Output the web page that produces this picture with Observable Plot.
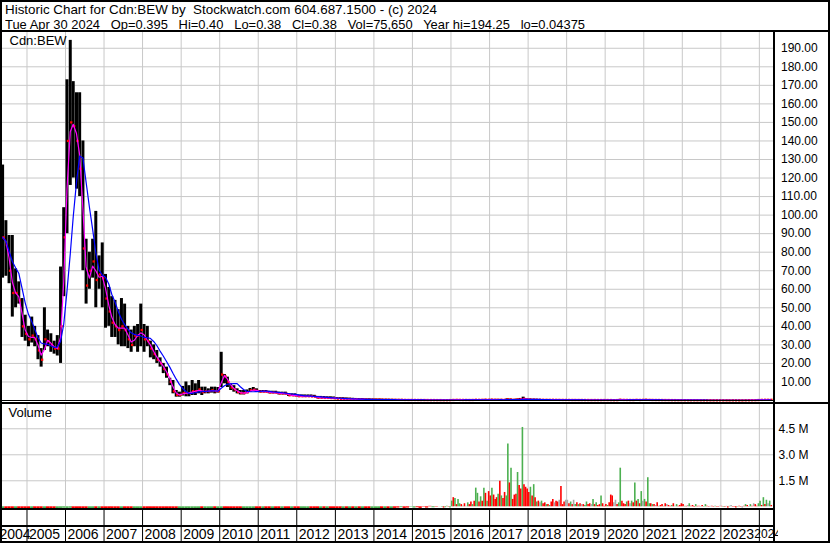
<!DOCTYPE html>
<html><head><meta charset="utf-8">
<script src="https://cdn.jsdelivr.net/npm/d3@7"></script>
<script src="https://cdn.jsdelivr.net/npm/@observablehq/plot@0.6"></script>
<style>
body{margin:0;background:#fff}
#chart{position:relative;width:830px;height:543px;overflow:hidden;background:#fff;font-family:"Liberation Sans",Arial,sans-serif}
#chart svg{position:absolute;overflow:hidden}
.ln{position:absolute;background:#000}
.hdr{position:absolute;left:5px;font-size:13px;line-height:14px;white-space:pre;color:#000;transform-origin:0 0}
</style></head><body><div id="chart"></div>
<script>
// ---- Header texts ----
const titleLine = "Historic Chart for Cdn:BEW by  Stockwatch.com 604.687.1500 - (c) 2024";
const infoLine = "Tue Apr 30 2024   Op=0.395   Hi=0.40   Lo=0.38   Cl=0.38   Vol=75,650   Year hi=194.25   lo=0.04375";
const symbolLabel = "Cdn:BEW";
const volumeLabel = "Volume";

// ---- Monthly price data, 2004-05 .. 2024-04 ----
const priceStart = [2004, 4]; // May 2004 (month index 0-based)
const priceHigh = [
  127, 97, 89, 89, 71, 64, 55, 46,
  40, 45, 40, 35, 28, 50, 38, 36, 32, 35, 72, 104,
  173, 194.25, 172, 166, 166, 140, 87, 80, 87, 102, 78, 85,
  68, 61, 56, 54, 49, 55, 52, 40, 38, 40, 41, 52,
  41, 40, 32, 30, 27, 23, 20, 18, 12, 10.8, 5.4, 4.5,
  7.6, 10, 8, 10.8, 9, 10.8, 7.2, 7.2, 6.3, 7.2, 7.2, 7,
  26, 14, 12.6, 9, 8, 6.3, 5.4, 5.4, 5.7, 6.5, 7, 6.3,
  5.4, 5.4, 5.4, 5, 5, 5, 4.5, 4.5, 4.5, 3.6, 3.6, 3.6,
  3, 3, 3, 3, 3, 2.8, 2.2, 2.2, 2.1, 2, 2, 1.9,
  1.6, 1.5, 1.5, 1.4, 1.3, 1.2, 1.1, 1.0, 1.0, 0.9, 0.9, 0.8,
  0.8, 0.8, 0.75, 0.7, 0.7, 0.65, 0.6, 0.6, 0.6, 0.55, 0.5, 0.5,
  0.5, 0.48, 0.45, 0.45, 0.42, 0.4, 0.4, 0.38, 0.38, 0.35, 0.35, 0.35,
  0.5, 0.55, 0.5, 0.45, 0.45, 0.4, 0.42, 0.55, 0.5, 0.5, 0.6, 0.55,
  0.65, 0.6, 0.6, 0.6, 0.55, 0.9, 0.8, 0.6, 0.8, 1.1, 1.8, 0.9,
  0.8, 0.7, 0.65, 0.6, 0.55, 0.5, 0.5, 0.55, 0.5, 0.48, 0.45, 0.45,
  0.45, 0.42, 0.42, 0.4, 0.4, 0.38, 0.38, 0.36, 0.38, 0.36, 0.34, 0.36,
  0.36, 0.38, 0.36, 0.34, 0.6, 0.45, 0.4, 0.4, 0.38, 0.5, 0.42, 0.48,
  0.6, 0.45, 0.42, 0.4, 0.4, 0.38, 0.37, 0.36, 0.35, 0.35, 0.34, 0.33,
  0.32, 0.31, 0.3, 0.3, 0.29, 0.28, 0.27, 0.26, 0.25, 0.24, 0.23, 0.22,
  0.22, 0.21, 0.2, 0.22, 0.2, 0.2, 0.19, 0.22, 0.24, 0.28, 0.3, 0.32,
  0.42, 0.45, 0.42, 0.40
];
const priceLow = [
  66, 67, 63, 45, 50, 52, 34, 32,
  29, 31, 29, 22, 18, 27, 29, 26, 25, 24, 20, 56,
  90, 116, 120, 114, 110, 70, 52, 60, 66, 50, 60, 50,
  39, 40, 34, 34, 30, 29, 29, 28, 26, 29, 26, 29,
  26, 29, 23, 22, 20, 18, 14.5, 12, 8, 3.6, 1.8, 1.8,
  2.4, 2, 2, 2.7, 2.7, 3.6, 2.7, 3.6, 3.6, 4, 3.6, 4,
  7, 9, 7, 5.4, 4.5, 3.6, 3, 3, 3.6, 4.5, 4.9, 4.5,
  4.1, 4.1, 4.1, 3.6, 3.6, 3.6, 3, 3, 3, 2.2, 2.2, 2,
  1.8, 1.8, 1.8, 1.8, 1.7, 1.6, 0.9, 0.9, 0.9, 0.9, 0.8, 0.8,
  0.5, 0.5, 0.5, 0.45, 0.4, 0.4, 0.4, 0.35, 0.35, 0.3, 0.3, 0.3,
  0.3, 0.3, 0.28, 0.25, 0.25, 0.25, 0.22, 0.2, 0.2, 0.2, 0.18, 0.18,
  0.18, 0.17, 0.16, 0.15, 0.15, 0.14, 0.14, 0.13, 0.12, 0.12, 0.12, 0.12,
  0.15, 0.2, 0.2, 0.18, 0.18, 0.17, 0.17, 0.2, 0.22, 0.22, 0.25, 0.25,
  0.3, 0.3, 0.28, 0.28, 0.25, 0.3, 0.35, 0.3, 0.3, 0.45, 0.45, 0.4,
  0.35, 0.32, 0.3, 0.28, 0.25, 0.24, 0.22, 0.22, 0.2, 0.2, 0.2, 0.18,
  0.18, 0.17, 0.17, 0.16, 0.16, 0.15, 0.15, 0.14, 0.14, 0.13, 0.13, 0.13,
  0.13, 0.12, 0.1, 0.1, 0.14, 0.15, 0.15, 0.14, 0.14, 0.16, 0.15, 0.16,
  0.2, 0.18, 0.17, 0.16, 0.15, 0.14, 0.13, 0.12, 0.11, 0.1, 0.1, 0.09,
  0.09, 0.08, 0.08, 0.08, 0.07, 0.07, 0.07, 0.06, 0.06, 0.06, 0.05, 0.05,
  0.05, 0.05, 0.04375, 0.05, 0.045, 0.045, 0.044, 0.05, 0.06, 0.07, 0.08, 0.09,
  0.2, 0.28, 0.3, 0.36
];
const priceClose = [
  88, 84, 70, 58, 58, 54, 40, 36,
  33, 35, 33, 27, 22, 33, 32, 30, 28, 28, 40, 88,
  140, 150, 148, 140, 125, 82, 62, 70, 75, 65, 68, 66,
  55, 48, 42, 40, 38, 40, 38, 33, 30, 35, 35, 38,
  33, 32, 28, 25, 22, 20, 17, 14, 10, 5, 3, 3,
  4, 4, 4, 5, 5, 6, 4.5, 5, 5, 5.5, 5, 5,
  14, 13, 10, 7, 6, 4.5, 4, 4, 4.5, 5.5, 5.8, 5.2,
  4.8, 4.8, 4.7, 4.3, 4.3, 4.2, 3.8, 3.8, 3.7, 2.8, 2.8, 2.7,
  2.3, 2.3, 2.3, 2.3, 2.2, 2.0, 1.5, 1.5, 1.4, 1.4, 1.3, 1.2,
  1.0, 0.9, 0.9, 0.8, 0.8, 0.7, 0.7, 0.6, 0.6, 0.55, 0.5, 0.5,
  0.5, 0.5, 0.45, 0.45, 0.4, 0.4, 0.38, 0.35, 0.35, 0.32, 0.3, 0.3,
  0.3, 0.28, 0.27, 0.26, 0.25, 0.24, 0.24, 0.22, 0.22, 0.2, 0.2, 0.22,
  0.3, 0.35, 0.32, 0.3, 0.3, 0.28, 0.3, 0.4, 0.35, 0.38, 0.45, 0.4,
  0.45, 0.42, 0.4, 0.4, 0.38, 0.6, 0.5, 0.42, 0.55, 0.7, 0.9, 0.6,
  0.55, 0.5, 0.45, 0.42, 0.4, 0.38, 0.36, 0.38, 0.35, 0.33, 0.32, 0.3,
  0.3, 0.29, 0.29, 0.28, 0.28, 0.27, 0.26, 0.25, 0.26, 0.25, 0.24, 0.25,
  0.25, 0.24, 0.2, 0.22, 0.4, 0.32, 0.3, 0.28, 0.27, 0.35, 0.3, 0.34,
  0.4, 0.33, 0.3, 0.28, 0.27, 0.26, 0.25, 0.24, 0.22, 0.21, 0.2, 0.19,
  0.18, 0.17, 0.17, 0.16, 0.15, 0.15, 0.14, 0.13, 0.13, 0.12, 0.11, 0.1,
  0.1, 0.1, 0.09, 0.11, 0.1, 0.09, 0.09, 0.12, 0.14, 0.18, 0.2, 0.24,
  0.33, 0.38, 0.37, 0.38
];

// ---- Volume (millions) ----
// monthly, 2004-05 .. 2015-09
const volEarly = [
  .06,.05,.07,.05,.06,.05,.07,.06,
  .05,.06,.04,.05,.06,.05,.04,.05,.06,.05,.08,.09,
  .08,.09,.07,.06,.06,.05,.05,.04,.05,.05,.04,.05,
  .05,.04,.05,.04,.05,.05,.04,.04,.05,.04,.05,.04,
  .04,.05,.04,.05,.04,.04,.05,.04,.05,.06,.05,.04,
  .05,.04,.05,.06,.05,.05,.04,.05,.04,.05,.04,.05,
  .07,.06,.05,.05,.04,.05,.04,.04,.05,.04,.05,.04,
  .04,.05,.04,.04,.05,.04,.04,.05,.04,.04,.05,.04,
  .04,.04,.05,.04,.04,.05,.04,.04,.04,.05,.04,.04,
  .04,.05,.04,.04,.04,.05,.04,.04,.05,.04,.04,.05,
  .05,.05,.04,.05,.06,.05,.08,.10,.12,.08,.10,.15,
  .10,.12,.08,.15,.10,.20,.12,.15,.18
];
// half-monthly, 2015-10 .. 2024-04 (two values per month)
const volLateStart = [2015, 9];
const volLate = [
  .15,.10, .12,.20, .15,.10,
  .50,.70, .65,.30, .60,.35, .30,.20, .35,.20, .40,.30, .45,.30, .50,1.25, .95,.45, .75,.50, 1.25,.95, .50,1.05,
  .80,1.25, .85,.60, .70,.90, 1.65,.80, .65,1.00, .80,3.80, 1.55,2.40, .60,.85, .90,2.15, 1.40,1.20, 4.75,1.45, 1.30,1.20,
  1.00,1.30, .80,1.45, .70,.45, .50,.40, .50,.35, .40,.30, .30,.25, .45,.60, .40,.50, .45,.55, 1.35,.30, .45,.55,
  .55,.35, .45,.30, .55,.30, .40,.30, .35,.30, .30,.25, .45,.30, .35,.30, .60,.30, .40,.25, .30,.80, .35,.20,
  .30,.25, .40,.85, .80,.40, .55,.30, .40,2.40, .50,.35, .30,.45, .50,.35, .50,.40, 1.55,.50, .60,.35, 1.05,.50,
  .60,.45, 1.85,.35, .35,.30, .30,.25, .40,.20, .25,.30, .20,.35, .30,.25, .20,.25, .35,.20, .30,.20, .25,.35,
  .30,.20, .20,.25, .35,.20, .25,.15, .30,.20, .20,.15, .25,.15, .30,.20, .15,.20, .20,.15, .20,.15, .15,.20,
  .20,.15, .15,.20, .10,.20, .25,.15, .15,.10, .15,.20, .15,.10, .20,.30, .25,.15, .30,.20, .35,.30, .20,.35,
  .50,.25, .70,.30, .55,.35, .50,.25
];
// g = up (green), r = down (red), n = unchanged (grey)
const volLateDir = [
  "g","r", "g","g", "r","g",
  "g","r", "g","r", "g","g", "r","g", "r","n", "g","r", "r","g", "r","g", "g","r", "g","r", "g","r", "g","r",
  "r","g", "r","r", "r","g", "r","g", "r","r", "g","g", "r","g", "r","r", "r","g", "r","r", "g","r", "r","r",
  "r","g", "r","g", "r","g", "r","n", "g","r", "r","g", "r","g", "r","r", "n","r", "r","n", "r","r", "r","n",
  "n","r", "g","r", "n","g", "r","g", "r","n", "r","g", "g","r", "r","n", "g","r", "g","r", "r","g", "r","r",
  "r","g", "r","r", "r","n", "n","r", "g","g", "r","r", "r","g", "r","n", "g","r", "g","r", "g","r", "g","n",
  "g","r", "g","g", "r","g", "r","n", "r","g", "r","r", "g","r", "n","r", "r","g", "r","n", "g","r", "r","r",
  "r","g", "r","n", "g","r", "r","r", "g","r", "r","n", "r","g", "g","r", "r","n", "r","r", "g","r", "r","n",
  "r","g", "r","n", "r","g", "n","r", "r","r", "g","r", "r","n", "r","g", "r","n", "g","r", "n","r", "r","g",
  "g","r", "g","r", "g","n", "g","r"
];

// ---- Axis ticks / labels ----
const priceTicks = [10,20,30,40,50,60,70,80,90,100,110,120,130,140,150,160,170,180,190];
const volTicks = [1.5, 3.0, 4.5];
const yearLabels = ["2004","2005","2006","2007","2008","2009","2010","2011","2012","2013","2014","2015","2016","2017","2018","2019","2020","2021","2022","2023","2024"];

// ---- Build tables ----
const utc = (y, m, d) => new Date(Date.UTC(y, m, d));
const priceRows = priceHigh.map((hi, i) => ({
  date: utc(priceStart[0], priceStart[1] + i, 15),
  hi, lo: priceLow[i], cl: priceClose[i]
}));
const earlyRows = volEarly.map((v, i) => ({
  date: utc(priceStart[0], priceStart[1] + i, 15),
  v, dir: i > 0 && priceClose[i] < priceClose[i - 1] ? "r" : "g"
}));
const lateRows = volLate.map((v, i) => ({
  date: utc(volLateStart[0], volLateStart[1] + Math.floor(i / 2), i % 2 ? 23 : 8),
  v, dir: volLateDir[i]
}));
const yearStarts = yearLabels.slice(1).map(y => utc(+y, 0, 1));
const xDomain = [utc(2004, 4, 14), utc(2024, 4, 14)];
const midYears = yearLabels.slice(1, -1).map(y => ({date: utc(+y, 0, 1), lab: y}));
const firstYear = [{date: xDomain[0], lab: yearLabels[0]}];
const lastYear = [{date: utc(2024, 0, 1), lab: yearLabels[yearLabels.length - 1]}];

const FONT = '"Liberation Sans", Arial, sans-serif';
const GRID = "#c8c8c8";
const volColor = {g: "#4cb050", r: "#ff0000", n: "#a8a8a8"};

const chart = document.getElementById("chart");
function place(el, left, top) { el.style.left = left + "px"; el.style.top = top + "px"; chart.appendChild(el); }

// ---- Price panel ----
const pricePlot = Plot.plot({
  width: 830, height: 370,
  marginLeft: 2, marginRight: 57, marginTop: 0, marginBottom: 2,
  x: {type: "utc", domain: xDomain, axis: null},
  y: {domain: [0, 198.5], axis: null},
  style: {fontFamily: FONT, fontSize: "12px", background: "transparent", color: "#000"},
  marks: [
    Plot.ruleY(priceTicks, {stroke: GRID, strokeOpacity: 1}),
    Plot.ruleX(yearStarts, {stroke: GRID, strokeOpacity: 1}),
    Plot.ruleX(priceRows, {x: "date", y1: "lo", y2: "hi", stroke: "#000", strokeWidth: 3}),
    Plot.dot(priceRows, {x: "date", y: "cl", symbol: "square", r: 1.3, fill: "#ff0000", stroke: null, dx: 1}),
    Plot.line(priceRows, Plot.windowY({k: 2, anchor: "end"}, {x: "date", y: "cl", stroke: "#ff00ff", strokeWidth: 1.2})),
    Plot.line(priceRows, Plot.windowY({k: 6, anchor: "end"}, {x: "date", y: "cl", stroke: "#0000ff", strokeWidth: 1.2})),
    Plot.text(priceTicks, {y: d => d, text: d => d.toFixed(2), frameAnchor: "right", textAnchor: "start", dx: 7.5, fontSize: 12, fill: "#000"}),
    Plot.text([symbolLabel], {frameAnchor: "top-left", textAnchor: "start", lineAnchor: "top", dx: 7, dy: 3, fontSize: 13, fill: "#000"})
  ]
});
place(pricePlot, 0, 32);

// ---- Volume panel ----
const volPlot = Plot.plot({
  width: 830, height: 105,
  marginLeft: 2, marginRight: 57, marginTop: 0, marginBottom: 2.7,
  x: {type: "utc", domain: xDomain, axis: null},
  y: {domain: [0, 5.9], axis: null},
  style: {fontFamily: FONT, fontSize: "12px", background: "transparent", color: "#000"},
  marks: [
    Plot.ruleY(volTicks, {stroke: GRID, strokeOpacity: 1}),
    Plot.ruleX(yearStarts, {stroke: GRID, strokeOpacity: 1}),
    Plot.ruleX(earlyRows, {x: "date", y: "v", stroke: d => volColor[d.dir], strokeWidth: 3.2, insetBottom: -3}),
    Plot.ruleX(lateRows, {x: "date", y: "v", stroke: d => volColor[d.dir], strokeWidth: 1.6, insetBottom: -3}),
    Plot.text(volTicks, {y: d => d, text: d => d.toFixed(1) + " M", frameAnchor: "right", textAnchor: "start", dx: 5, fontSize: 12, fill: "#000"}),
    Plot.text([volumeLabel], {frameAnchor: "top-left", textAnchor: "start", lineAnchor: "top", dx: 6, dy: 3, fontSize: 13, fill: "#000"})
  ]
});
place(volPlot, 0, 404);

// ---- Frame lines (drawn before the year strip so the last label sits on top) ----
function line(left, top, w, h) { const d = document.createElement("div"); d.className = "ln"; d.style.width = w + "px"; d.style.height = h + "px"; place(d, left, top); }
line(0, 0, 830, 2);      // top border
line(0, 541, 830, 2);    // bottom border
line(0, 0, 2, 543);      // left border
line(828, 0, 2, 543);    // right border
line(0, 30, 830, 2);     // header separator
line(773, 32, 2, 511);   // right axis separator
line(0, 400, 775, 1);    // price panel bottom
line(0, 402, 830, 2);    // volume panel top
line(0, 508, 775, 2);    // volume panel bottom
line(0, 525, 775, 2);    // year strip middle

// ---- Year strip ----
const yearText = {text: "lab", frameAnchor: "bottom", lineAnchor: "middle", dy: -7, fill: "#000"};
const yearPlot = Plot.plot({
  width: 778, height: 31,
  marginLeft: 2, marginRight: 5, marginTop: 0, marginBottom: 0,
  x: {type: "utc", domain: xDomain, axis: null},
  y: {axis: null},
  style: {fontFamily: FONT, fontSize: "14px", background: "transparent", color: "#000"},
  marks: [
    Plot.ruleX(yearStarts, {stroke: "#000", strokeWidth: 1}),
    Plot.text(midYears, {x: "date", textAnchor: "start", dx: 2, fontSize: 14, ...yearText}),
    Plot.text(firstYear, {x: "date", textAnchor: "start", dx: -3, fontSize: 14, ...yearText}),
    Plot.text(lastYear, {x: "date", textAnchor: "start", dx: -5, fontSize: 12, ...yearText})
  ]
});
place(yearPlot, 0, 510);

// ---- Header ----
function header(text, top, targetRight) {
  const d = document.createElement("div"); d.className = "hdr"; d.textContent = text; place(d, 5, top);
  const w = d.getBoundingClientRect().width;
  if (w > 0) d.style.transform = `scaleX(${(targetRight - 5) / w})`;
}
header(titleLine, 3, 437);
header(infoLine, 17.5, 585);
</script></body></html>
